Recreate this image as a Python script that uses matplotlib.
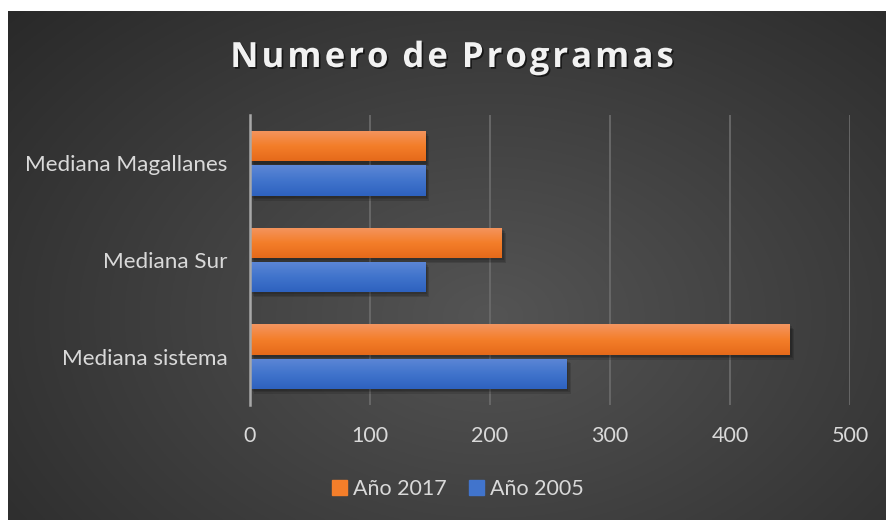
import numpy as np
import matplotlib
matplotlib.use("Agg")
import matplotlib.pyplot as plt
import matplotlib.patheffects as pe
from matplotlib.colors import LinearSegmentedColormap
from matplotlib.patches import Patch
from matplotlib.transforms import ScaledTranslation

CATEGORIES = ["Mediana sistema", "Mediana Sur", "Mediana Magallanes"]
ANIO_2017 = [450, 210, 146]
ANIO_2005 = [264, 146, 146]
XTICKS = [0, 100, 200, 300, 400, 500]
TITLE = "Numero de Programas"

W, H = 886, 520
TXT = "#d9d9d9"
ORANGE = ["#f39560", "#f47e2a", "#e56a1a"]
BLUE = ["#5d87d6", "#4174cc", "#2e62bf"]

fig = plt.figure(figsize=(W / 100, H / 100), dpi=100)
fig.patch.set_facecolor("white")

# dark radial background panel (white strip at top/left as in the reference)
bg = fig.add_axes([8 / W, 0, (W - 8) / W, (H - 11) / H])
bg.axis("off")
yy, xx = np.mgrid[0:1:300j, 0:1:500j]
r = np.sqrt(((xx - 0.55) / 0.75) ** 2 + ((yy - 0.6) / 0.9) ** 2)
shade = np.clip(0.33 - 0.17 * r, 0.16, 0.33)
bg.imshow(np.dstack([shade] * 3), extent=[0, 1, 0, 1], aspect="auto")
bg.set_xlim(0, 1); bg.set_ylim(0, 1)

ax = fig.add_axes([250 / W, 115 / H, 600 / W, 290 / H])
ax.set_facecolor("none")
y = np.arange(len(CATEGORIES))
off, h = 0.177, 0.315

# soft shadows under the bars (a few stacked, offset layers)
for d in (1.5, 2.5, 3.5):
    shift = ax.transData + ScaledTranslation(d * 0.8 / 72, -d / 72, fig.dpi_scale_trans)
    for vals, dy in ((ANIO_2017, off), (ANIO_2005, -off)):
        ax.barh(y + dy, vals, height=h, color="black", alpha=0.13, transform=shift, zorder=2)

bars17 = ax.barh(y + off, ANIO_2017, height=h, color=ORANGE[1], zorder=3)
bars05 = ax.barh(y - off, ANIO_2005, height=h, color=BLUE[1], zorder=3)

# vertical gradient fill (lighter top, darker bottom)
for bars, cols in ((bars17, ORANGE), (bars05, BLUE)):
    cmap = LinearSegmentedColormap.from_list("g", cols)
    grad = np.linspace(0, 1, 64).reshape(-1, 1)
    for b in bars:
        x0, y0 = b.get_x(), b.get_y()
        im = ax.imshow(grad, cmap=cmap, extent=[x0, x0 + b.get_width(), y0, y0 + b.get_height()],
                       aspect="auto", origin="upper", zorder=3.5)
        im.set_clip_path(b)

ax.set_xlim(0, 500)
ax.set_ylim(-0.5, 2.5)
ax.set_xticks(XTICKS)
ax.set_yticks(y, CATEGORIES)
ax.xaxis.grid(True, color="#6a6a6a", lw=1.3)
ax.set_axisbelow(True)
for s in ("top", "right", "bottom"):
    ax.spines[s].set_visible(False)
ax.spines["left"].set_color("#a8a8a8")
ax.spines["left"].set_linewidth(1.8)
ax.spines["left"].set_zorder(4)
ax.tick_params(length=0, colors=TXT, labelsize=15.5)
ax.tick_params(axis="y", labelsize=16.2, pad=16)
ax.tick_params(axis="x", pad=15)
for t in ax.get_xticklabels() + ax.get_yticklabels():
    t.set_family("Lato")

ax.legend(handles=[Patch(color=ORANGE[1], label="Año 2017"), Patch(color=BLUE[1], label="Año 2005")],
          loc="center", bbox_to_anchor=(458 / W, 1 - 489 / H), bbox_transform=fig.transFigure,
          ncol=2, frameon=False, handlelength=0.7, handleheight=0.7, handletextpad=0.3,
          columnspacing=1.0, prop={"family": "Lato", "size": 15.5}, labelcolor=TXT)

# spaced-out bold title, placed glyph by glyph
renderer = fig.canvas.get_renderer()
shadow = [pe.withSimplePatchShadow(offset=(1.2, -1.2), shadow_rgbFace="black", alpha=0.6)]
spacing = 3.0
texts, widths = [], []
for ch in TITLE:
    t = fig.text(0, 0, ch, color="#f2f2f2", fontsize=25, fontweight="bold", family="Open Sans",
                 ha="left", va="center", path_effects=shadow)
    texts.append(t)
    if ch == " ":
        widths.append(8)
    else:
        widths.append(t.get_window_extent(renderer).width)
total = sum(widths) + spacing * (len(TITLE) - 1)
x = 452 - total / 2
for t, w in zip(texts, widths):
    t.set_position((x / W, 1 - 58 / H))
    x += w + spacing

fig.savefig("out.png", dpi=100)
